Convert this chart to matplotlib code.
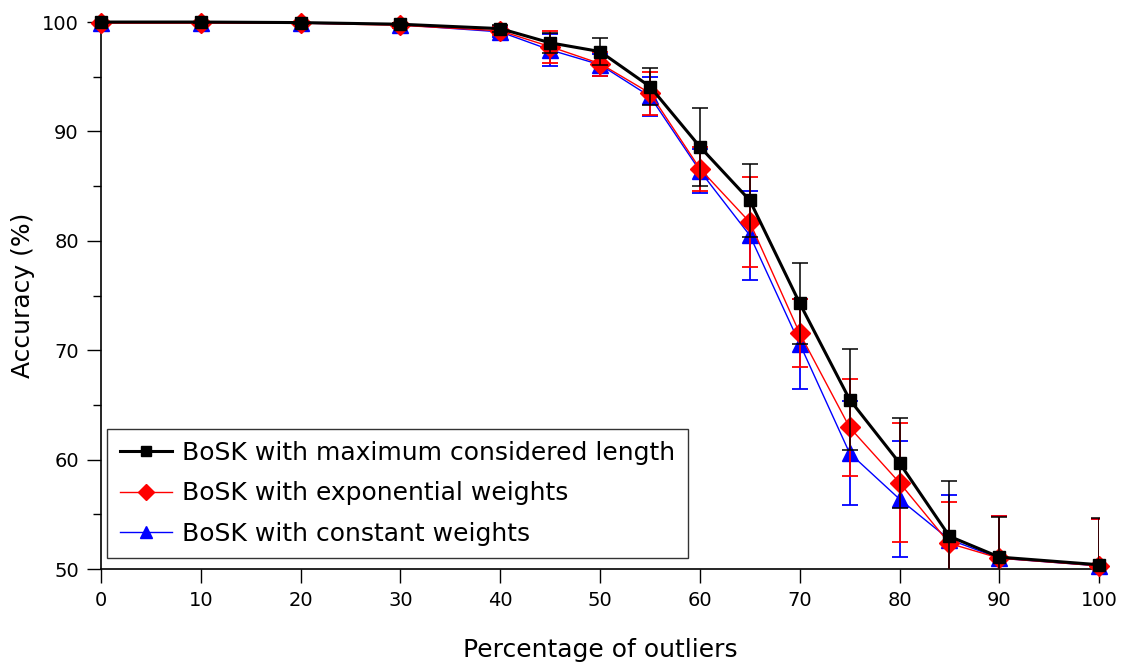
import numpy as np
import matplotlib.pyplot as plt
from matplotlib.ticker import MultipleLocator

# Percentage of outliers
outliers = [0, 10, 20, 30, 40, 45, 50, 55, 60, 65, 70, 75, 80, 85, 90, 100]

# Accuracy (%) and std for each method
acc_max = [100.0, 100.0, 99.95, 99.8, 99.4, 98.1, 97.3, 94.1, 88.6, 83.7, 74.3, 65.5, 59.7, 53.0, 51.1, 50.4]
err_max = [0.05, 0.05, 0.1, 0.15, 0.35, 0.9, 1.25, 1.7, 3.55, 3.3, 3.7, 4.6, 4.1, 5.1, 3.7, 4.3]

acc_exp = [99.9, 99.9, 99.9, 99.7, 99.2, 97.75, 96.2, 93.5, 86.6, 81.7, 71.55, 62.95, 57.9, 52.35, 51.0, 50.3]
err_exp = [0.1, 0.1, 0.15, 0.2, 0.4, 1.45, 1.1, 1.95, 2.0, 4.1, 3.1, 4.45, 5.45, 3.75, 3.9, 4.3]

acc_const = [99.95, 99.95, 99.9, 99.75, 99.1, 97.45, 96.1, 93.2, 86.4, 80.5, 70.6, 60.6, 56.4, 52.7, 51.0, 50.3]
err_const = [0.05, 0.05, 0.15, 0.2, 0.45, 1.5, 1.0, 1.8, 2.0, 4.1, 4.1, 4.75, 5.3, 4.1, 3.9, 4.3]

labels = ["BoSK with maximum considered length",
          "BoSK with exponential weights",
          "BoSK with constant weights"]

fig = plt.figure(figsize=(11.24, 6.68), dpi=100)
ax = fig.add_axes([0.0899, 0.148, 0.888, 0.819])

series = [
    (acc_const, err_const, "blue", "^", 11, 1.0, 1.3, labels[2], 2),
    (acc_exp, err_exp, "red", "D", 10, 1.0, 1.3, labels[1], 3),
    (acc_max, err_max, "black", "s", 9, 2.2, 1.1, labels[0], 4),
]
lines = {}
for acc, err, col, mk, ms, lw, elw, lab, z in series:
    cont = ax.errorbar(outliers, acc, yerr=err, color=col, marker=mk, markersize=ms,
                       linewidth=lw, elinewidth=elw, capsize=6, capthick=elw,
                       label=lab, zorder=z)
    # markers/line not clipped at the frame, error bars are
    cont[0].set_clip_on(False)
    lines[lab] = cont[0]

ax.set_xlim(0, 100)
ax.set_ylim(50, 100)
ax.set_xticks([0, 10, 20, 30, 40, 50, 60, 70, 80, 90, 100])
ax.yaxis.set_major_locator(MultipleLocator(10))
ax.yaxis.set_minor_locator(MultipleLocator(5))

for s in ["top", "right"]:
    ax.spines[s].set_visible(False)
ax.spines["left"].set_linewidth(1.2)
ax.spines["bottom"].set_linewidth(1.2)

ax.tick_params(axis="both", which="major", direction="out", length=10, width=1,
               labelsize=14, pad=6)
ax.tick_params(axis="y", which="minor", direction="out", length=6, width=1)

ax.set_xlabel("Percentage of outliers", fontsize=18, labelpad=20)
ax.set_ylabel("Accuracy (%)", fontsize=18, labelpad=5)

leg = ax.legend([lines[l] for l in labels], labels,
                loc="lower left", bbox_to_anchor=(0.006, 0.02), borderaxespad=0,
                fontsize=18, frameon=True, fancybox=False, edgecolor="black",
                borderpad=0.5, handlelength=2.1, labelspacing=0.65,
                handletextpad=0.4, markerscale=0.8)
leg.get_frame().set_linewidth(1.0)

plt.savefig("out.png", dpi=100)
